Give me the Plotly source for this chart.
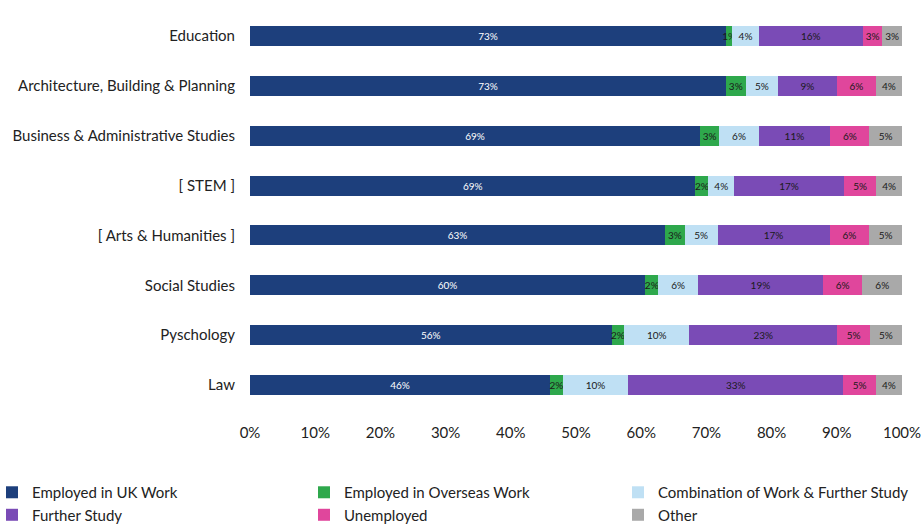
import plotly.graph_objects as go

# subjects, top to bottom
subjects = ['Education', 'Architecture, Building & Planning', 'Business & Administrative Studies',
            '[ STEM ]', '[ Arts & Humanities ]', 'Social Studies', 'Pyschology', 'Law']

# percentages
employed_uk = [73, 73, 69, 69, 63, 60, 56, 46]
employed_overseas = [1, 3, 3, 2, 3, 2, 2, 2]
work_and_study = [4, 5, 6, 4, 5, 6, 10, 10]
further_study = [16, 9, 11, 17, 17, 19, 23, 33]
unemployed = [3, 6, 6, 5, 6, 6, 5, 5]
other = [3, 4, 5, 4, 5, 6, 5, 4]

# name, values, colour, text colour, legend column
series = [
    ('Employed in UK Work', employed_uk, '#1d3f7c', 'white', 'legend'),
    ('Employed in Overseas Work', employed_overseas, '#2ea84c', '#1a1a1a', 'legend2'),
    ('Combination of Work & Further Study', work_and_study, '#bfe0f4', '#1a1a1a', 'legend3'),
    ('Further Study', further_study, '#7a4bb6', '#1a1a1a', 'legend'),
    ('Unemployed', unemployed, '#e0469c', '#1a1a1a', 'legend2'),
    ('Other', other, '#a9a9a9', '#1a1a1a', 'legend3'),
]

fig = go.Figure()
for name, vals, color, tcol, leg in series:
    fig.add_trace(go.Bar(
        y=subjects, x=vals, name=name, orientation='h', legend=leg,
        marker=dict(color=color, line=dict(width=0)),
        text=[f'{v}%' for v in vals], textposition='inside',
        insidetextanchor='middle', constraintext='none', textangle=0,
        textfont=dict(size=10, color=tcol, family='Lato'),
        width=0.4,
    ))

# three legend columns below the plot (x given in paper units of the 652px plot area)
leg_style = dict(orientation='v', xref='paper', yref='container', xanchor='left',
                 yanchor='top', y=0.095, font=dict(size=15), itemwidth=30,
                 traceorder='normal', tracegroupgap=0, bgcolor='rgba(0,0,0,0)')

fig.update_layout(
    barmode='stack', barnorm='percent',
    width=924, height=526,
    margin=dict(l=250, r=22, t=11, b=116, autoexpand=False),
    plot_bgcolor='white', paper_bgcolor='white',
    font=dict(family='Lato', size=15, color='#222222'),
    showlegend=True,
    legend=dict(x=(-8 - 250) / 652, **leg_style),
    legend2=dict(x=(304 - 250) / 652, **leg_style),
    legend3=dict(x=(618 - 250) / 652, **leg_style),
    xaxis=dict(range=[0, 100], tickvals=list(range(0, 101, 10)),
               ticktext=[f'{v}%' for v in range(0, 101, 10)], tickangle=0,
               showgrid=False, zeroline=False, showline=False, automargin=False,
               ticklabelstandoff=12, tickfont=dict(size=15)),
    yaxis=dict(autorange='reversed', showgrid=False, ticklabelstandoff=14,
               automargin=False, tickfont=dict(size=15)),
)

fig.write_html("out.html", config={'displayModeBar': False},
               post_script="document.body.style.margin='0';")
